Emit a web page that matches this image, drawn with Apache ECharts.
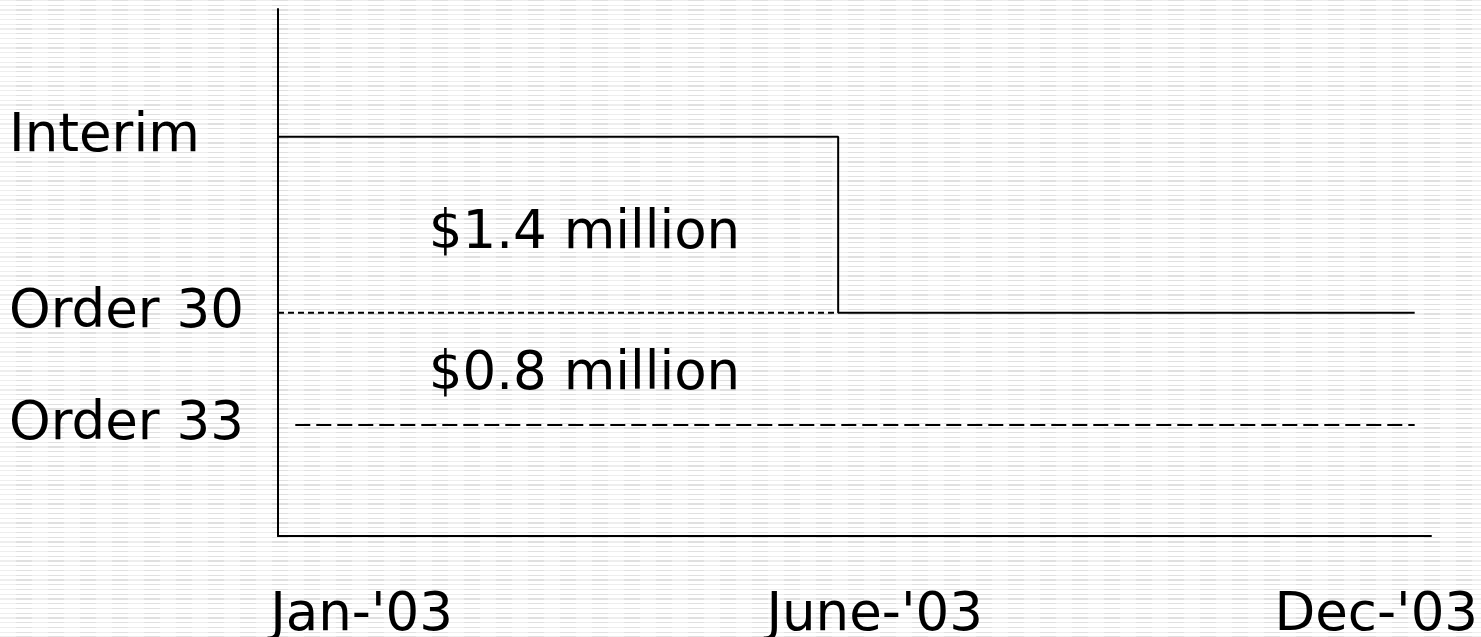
<html>
<head>
    <meta charset='utf-8'/>
    <title>Interim vs Order 30 / Order 33</title>
    <style>
        body {
            margin: 0;
            padding: 0;
            background:
                repeating-linear-gradient(90deg, rgba(255,255,255,0.45) 0 16px, rgba(255,255,255,0) 16px 32px),
                repeating-linear-gradient(180deg, #e0e0e0 0 1.2px, #ffffff 1.2px 4.75px);
        }

        #chart {
            position: absolute;
            top: 0;
            left: 0;
            width: 1481px;
            height: 637px;
        }
    </style>
</head>
<body>
<div id='chart'></div>
<script src="https://cdn.jsdelivr.net/npm/echarts@6/dist/echarts.min.js"></script>
<script type="text/javascript">
    // levels on the y axis
    var levelNames = ['Interim', 'Order 30', 'Order 33'];
    var levelValues = [3.56, 1.99, 0.99];

    // months on the x axis (label positions in months from Jan)
    var monthLabels = ["Jan-'03", "June-'03", "Dec-'03"];
    var monthPositions = [0.87, 6.21, 11.43];

    // interim rate steps down to Order 30 in June
    var stepX = [0, 5.83, 5.83, 11.83];
    var stepY = [3.56, 3.56, 1.99, 1.99];

    // dashed reference lines
    var order30X = [0, 5.83];
    var order33X = [0.18, 11.83];

    // amounts written in the gaps
    var amountLabels = ['$1.4 million', '$0.8 million'];
    var amountX = [3.19, 3.19];
    var amountY = [2.69, 1.43];

    var font = 'DejaVu Sans';

    function zip(xs, ys) {
        var out = [];
        for (var i = 0; i < xs.length; i++) out.push([xs[i], ys[i]]);
        return out;
    }

    function nearestName(v, positions, names) {
        var best = 0;
        for (var i = 1; i < positions.length; i++) {
            if (Math.abs(positions[i] - v) < Math.abs(positions[best] - v)) best = i;
        }
        return names[best];
    }

    var chart = echarts.init(document.getElementById('chart'), null, {renderer: 'canvas'});

    var option = {
        backgroundColor: 'transparent',
        animation: false,
        grid: {
            left: 278,
            right: 50,
            top: 9,
            bottom: 101,
            containLabel: false,
            outerBoundsMode: 'none'
        },
        xAxis: {
            type: 'value',
            min: 0,
            max: 12,
            axisLine: {show: true, lineStyle: {color: '#000', width: 2}},
            axisTick: {show: false},
            splitLine: {show: false},
            axisLabel: {
                customValues: monthPositions,
                margin: 54,
                color: '#000',
                fontFamily: font,
                fontSize: 53,
                lineHeight: 53,
                formatter: function (v) {
                    return nearestName(v, monthPositions, monthLabels);
                }
            }
        },
        yAxis: {
            type: 'value',
            min: 0,
            max: 4.7,
            axisLine: {show: true, lineStyle: {color: '#000', width: 2}},
            axisTick: {show: false},
            splitLine: {show: false},
            axisLabel: {
                customValues: levelValues,
                align: 'left',
                margin: 269,
                color: '#000',
                fontFamily: font,
                fontSize: 53,
                lineHeight: 53,
                formatter: function (v) {
                    return nearestName(v, levelValues, levelNames);
                }
            }
        },
        series: [
            {
                name: 'Interim',
                type: 'line',
                symbol: 'none',
                lineStyle: {color: '#000', width: 2},
                data: zip(stepX, stepY)
            },
            {
                name: 'Order 30',
                type: 'line',
                symbol: 'none',
                lineStyle: {color: '#000', width: 2, type: [6, 4]},
                data: zip(order30X, [levelValues[1], levelValues[1]])
            },
            {
                name: 'Order 33',
                type: 'line',
                symbol: 'none',
                lineStyle: {color: '#000', width: 2, type: [15, 6]},
                data: zip(order33X, [levelValues[2], levelValues[2]])
            },
            {
                name: 'Amounts',
                type: 'scatter',
                symbolSize: 0,
                itemStyle: {color: '#000', opacity: 1},
                label: {
                    show: true,
                    position: 'inside',
                    color: '#000',
                    opacity: 1,
                    fontFamily: font,
                    fontSize: 53,
                    lineHeight: 53,
                    formatter: function (p) {
                        return amountLabels[p.dataIndex];
                    }
                },
                data: zip(amountX, amountY)
            }
        ]
    };

    chart.setOption(option);
</script>
</body>
</html>
